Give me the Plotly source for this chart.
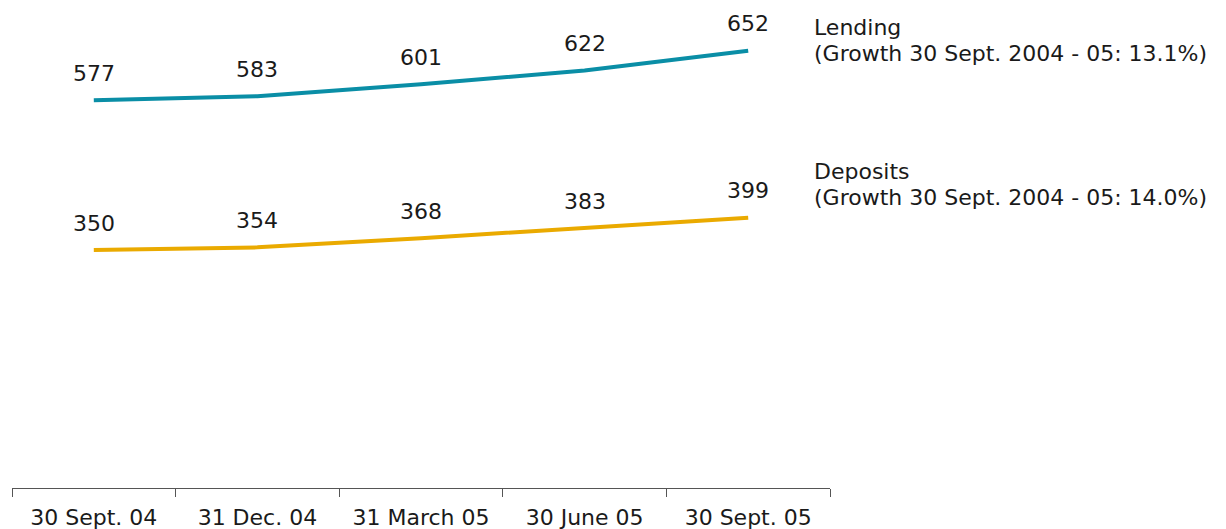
import plotly.graph_objects as go

categories = ["30 Sept. 04", "31 Dec. 04", "31 March 05", "30 June 05", "30 Sept. 05"]
lending = [577, 583, 601, 622, 652]
deposits = [350, 354, 368, 383, 399]
series_names = ["Lending", "Deposits"]
growth_notes = ["(Growth 30 Sept. 2004 - 05: 13.1%)", "(Growth 30 Sept. 2004 - 05: 14.0%)"]

FONT = "DejaVu Sans"
FS = 22
FS_R = 22
TXT = "#1a1a1a"
C_LEND = "#0A8EA6"
C_DEP = "#EAAA00"

fig = go.Figure()
fig.add_trace(go.Scatter(x=categories, y=lending, mode="lines", name=series_names[0],
                         line=dict(color=C_LEND, width=4), showlegend=False, hoverinfo="skip"))
fig.add_trace(go.Scatter(x=categories, y=deposits, mode="lines", name=series_names[1],
                         line=dict(color=C_DEP, width=4), showlegend=False, hoverinfo="skip"))

ann = []
for vals in (lending, deposits):
    for c, v in zip(categories, vals):
        ann.append(dict(x=c, y=v, xref="x", yref="y", text=str(v), showarrow=False,
                        yshift=27, xanchor="center", yanchor="middle",
                        font=dict(family=FONT, size=FS, color=TXT)))

right_x = (812 - 12) / 818
label_rows = [
    (series_names[0], 28), (growth_notes[0], 54),
    (series_names[1], 171), (growth_notes[1], 197),
]
for txt, ypx in label_rows:
    ann.append(dict(x=right_x, y=1 - ypx / 488, xref="paper", yref="paper", text=txt,
                    showarrow=False, xanchor="left", yanchor="middle",
                    font=dict(family=FONT, size=FS_R, color=TXT)))

fig.update_layout(
    width=1226, height=529,
    margin=dict(l=12, r=396, t=0, b=41),
    paper_bgcolor="white", plot_bgcolor="white",
    annotations=ann,
    xaxis=dict(type="category", range=[-0.5, 4.5], tickson="boundaries",
               ticks="outside", ticklen=8, tickcolor="#555555", tickwidth=1,
               showline=True, linecolor="#555555", linewidth=1,
               showgrid=False, zeroline=False, automargin=False,
               ticklabelstandoff=10,
               tickfont=dict(family=FONT, size=FS, color=TXT)),
    yaxis=dict(range=[-10.6, 728.8], visible=False, showgrid=False, zeroline=False),
)

fig.write_html("out.html", config={"displayModeBar": False},
               post_script="document.body.style.margin='0';document.body.style.overflow='hidden';")
